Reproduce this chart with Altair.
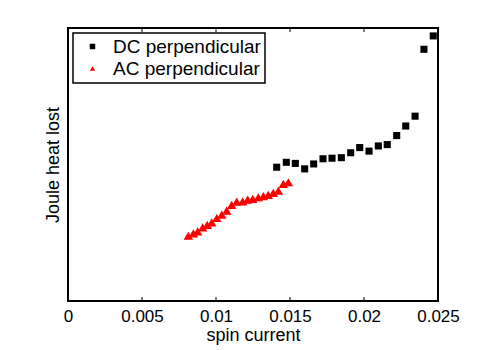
import altair as alt
import pandas as pd

# DC perpendicular (squares)
dc_x = [0.01410, 0.01475, 0.01536, 0.01599, 0.01660, 0.01723, 0.01784, 0.01847, 0.01910,
        0.01971, 0.02034, 0.02097, 0.02157, 0.02221, 0.02282, 0.02345, 0.02405, 0.02468]
dc_y = [0.490, 0.508, 0.504, 0.484, 0.502, 0.521, 0.523, 0.525, 0.543,
        0.562, 0.549, 0.568, 0.573, 0.606, 0.641, 0.677, 0.922, 0.971]

# AC perpendicular (triangles)
ac_x = [0.00813, 0.00847, 0.00876, 0.00910, 0.00941, 0.00971, 0.01005, 0.01039, 0.01072,
        0.01106, 0.01140, 0.01180, 0.01214, 0.01248, 0.01286, 0.01320, 0.01353, 0.01387,
        0.01421, 0.01455, 0.01489]
ac_y = [0.239, 0.248, 0.255, 0.270, 0.279, 0.288, 0.304, 0.316, 0.331,
        0.352, 0.364, 0.365, 0.371, 0.374, 0.380, 0.384, 0.389, 0.396,
        0.404, 0.429, 0.435]

series = ["DC perpendicular", "AC perpendicular"]
x_labels = [0, 0.005, 0.01, 0.015, 0.02, 0.025]
x_ticks = [0.005, 0.01, 0.015, 0.02]

FONT = "Liberation Sans"
W, H = 370, 273

df = pd.concat([
    pd.DataFrame({"x": dc_x, "y": dc_y, "s": series[0]}),
    pd.DataFrame({"x": ac_x, "y": ac_y, "s": series[1]}),
])
ticks = pd.DataFrame({"t": x_ticks})

xscale = alt.Scale(domain=[0, 0.025], nice=False, zero=False)
yscale = alt.Scale(domain=[0, 1], nice=False, zero=False)
cscale = alt.Scale(domain=series, range=["black", "#ff0000"])
sscale = alt.Scale(domain=series, range=["square", "triangle-up"])

dc = alt.Chart(df[df.s == series[0]]).mark_point(
    filled=True, opacity=1, size=50).encode(
    x=alt.X("x:Q", scale=xscale,
            axis=alt.Axis(values=x_labels, format="~g", labelFlush=False,
                          ticks=False, domain=False, grid=False, labelFontSize=17,
                          labelFont=FONT, labelColor="black", labelPadding=7,
                          title="spin current", titleFont=FONT, titleFontSize=18,
                          titleFontWeight="normal", titleColor="black", titlePadding=2)),
    y=alt.Y("y:Q", scale=yscale,
            axis=alt.Axis(labels=False, ticks=False, domain=False, grid=False,
                          title="Joule heat lost", titleFont=FONT, titleFontSize=18,
                          titleFontWeight="normal", titleColor="black", titlePadding=6)),
    color=alt.Color("s:N", scale=cscale,
                    legend=alt.Legend(title=None, orient="none", legendX=5, legendY=5,
                                      labelFont=FONT, labelFontSize=19, labelColor="black",
                                      strokeColor="black", fillColor="white",
                                      padding=4, rowPadding=2, symbolSize=30,
                                      symbolOffset=6, labelOffset=11, offset=0)),
    shape=alt.Shape("s:N", scale=sscale, legend=None),
)

ac = alt.Chart(df[df.s == series[1]]).mark_point(
    filled=True, opacity=1, size=90).encode(
    x=alt.X("x:Q", scale=xscale),
    y=alt.Y("y:Q", scale=yscale),
    color=alt.Color("s:N", scale=cscale),
    shape=alt.Shape("s:N", scale=sscale, legend=None),
)

bottom_ticks = alt.Chart(ticks).mark_rule(color="black", strokeWidth=1).encode(
    x=alt.X("t:Q", scale=xscale), y=alt.value(H), y2=alt.value(H - 4))
top_ticks = alt.Chart(ticks).mark_rule(color="black", strokeWidth=1).encode(
    x=alt.X("t:Q", scale=xscale), y=alt.value(0), y2=alt.value(4))

frame = alt.Chart(ticks).mark_rect(filled=False, stroke="black", strokeWidth=2).encode(
    x=alt.value(0), x2=alt.value(W), y=alt.value(0), y2=alt.value(H))

chart = alt.layer(bottom_ticks, top_ticks, ac, dc, frame).properties(
    width=W, height=H,
    autosize=alt.AutoSizeParams(type="none"),
    padding={"left": 60, "top": 20, "right": 45, "bottom": 49},
).configure_view(stroke=None, fill="white").configure(
    background="white").configure_legend(strokeWidth=1.5)

chart.save("out.html", embed_options={"renderer": "svg", "actions": False})
